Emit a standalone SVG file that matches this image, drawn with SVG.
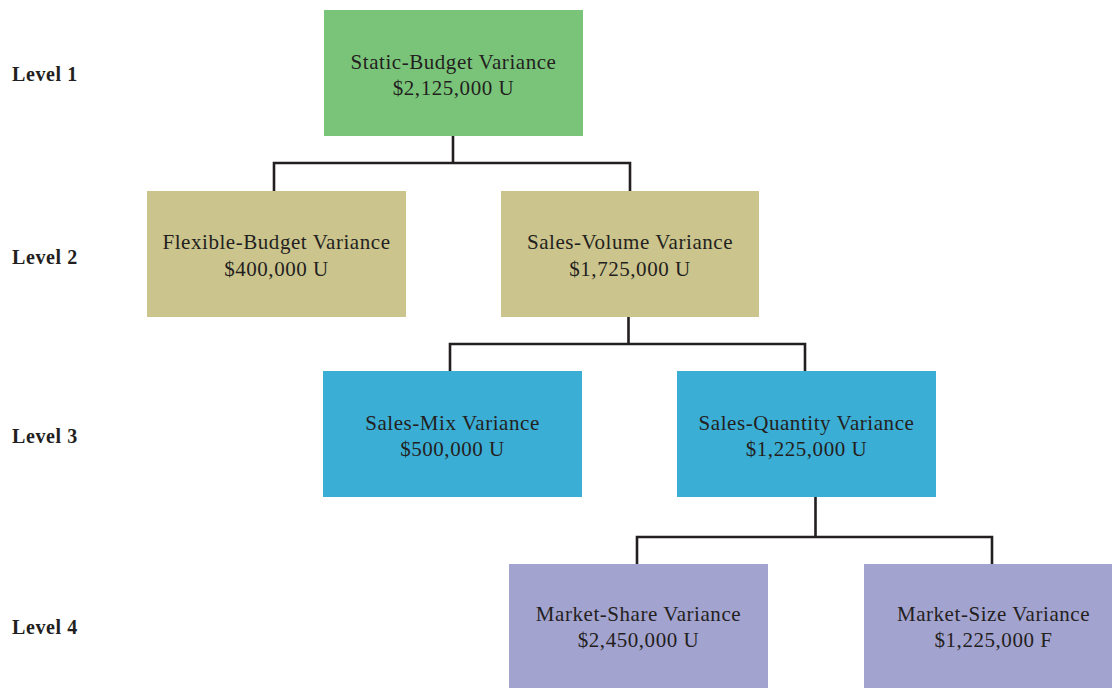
<svg xmlns="http://www.w3.org/2000/svg" width="1112" height="688" viewBox="0 0 1112 688">
<style>
.lbl{font-family:"Liberation Serif","Times New Roman",serif;font-weight:bold;font-size:20px;letter-spacing:0.6px;fill:#231F20}
.t{font-family:"Liberation Serif","Times New Roman",serif;font-size:21px;letter-spacing:0.55px;fill:#231F20;text-anchor:middle}
.l1{fill:#7AC47A}.l2{fill:#CBC48D}.l3{fill:#3BAED6}.l4{fill:#A3A3D0}
.c{fill:none;stroke:#231F20;stroke-width:2.6;stroke-linejoin:miter}
</style>
<rect width="1112" height="688" fill="#FFFFFF"/>
<g id="level-labels">
<text class="lbl" x="12" y="81">Level 1</text>
<text class="lbl" x="12" y="264">Level 2</text>
<text class="lbl" x="12" y="443">Level 3</text>
<text class="lbl" x="12" y="634">Level 4</text>
</g>
<g id="connectors">
<path class="c" d="M453,136 V163 M274,191 V163 H630 V191"/>
<path class="c" d="M628.5,317 V344 M450,371 V344 H805 V371"/>
<path class="c" d="M815.5,497 V537 M637,564 V537 H992 V564"/>
</g>
<g id="static-budget">
<rect class="l1" x="324" y="10" width="259" height="126"/>
<text class="t" x="453.5" y="69">Static-Budget Variance</text>
<text class="t" x="453.5" y="95">$2,125,000 U</text>
</g>
<g id="flexible-budget">
<rect class="l2" x="147" y="191" width="259" height="126"/>
<text class="t" x="276.5" y="249">Flexible-Budget Variance</text>
<text class="t" x="276.5" y="276">$400,000 U</text>
</g>
<g id="sales-volume">
<rect class="l2" x="501" y="191" width="258" height="126"/>
<text class="t" x="630" y="249">Sales-Volume Variance</text>
<text class="t" x="630" y="276">$1,725,000 U</text>
</g>
<g id="sales-mix">
<rect class="l3" x="323" y="371" width="259" height="126"/>
<text class="t" x="452.5" y="430">Sales-Mix Variance</text>
<text class="t" x="452.5" y="456">$500,000 U</text>
</g>
<g id="sales-quantity">
<rect class="l3" x="677" y="371" width="259" height="126"/>
<text class="t" x="806.5" y="430">Sales-Quantity Variance</text>
<text class="t" x="806.5" y="456">$1,225,000 U</text>
</g>
<g id="market-share">
<rect class="l4" x="509" y="564" width="259" height="126"/>
<text class="t" x="638.5" y="621">Market-Share Variance</text>
<text class="t" x="638.5" y="647">$2,450,000 U</text>
</g>
<g id="market-size">
<rect class="l4" x="864" y="564" width="259" height="126"/>
<text class="t" x="993.5" y="621">Market-Size Variance</text>
<text class="t" x="993.5" y="647">$1,225,000 F</text>
</g>
</svg>
